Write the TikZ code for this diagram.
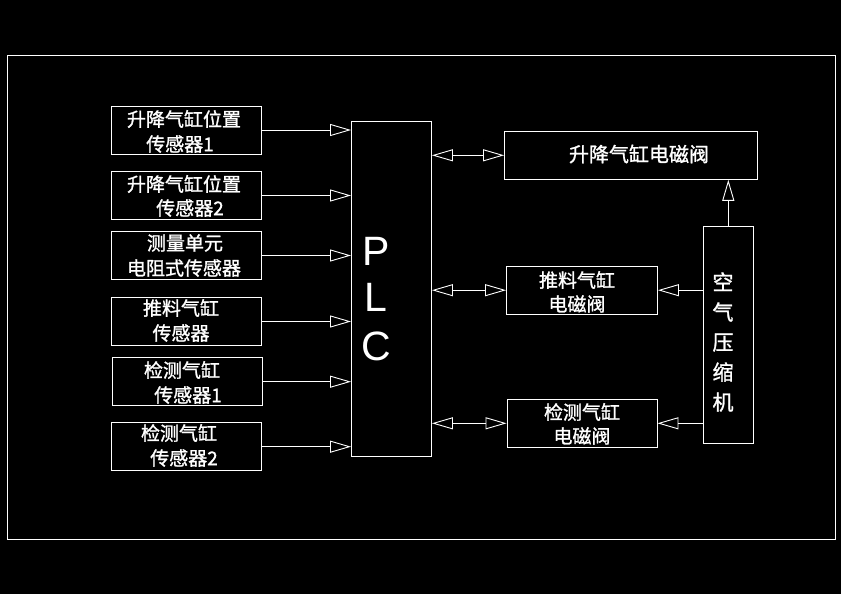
\documentclass[tikz,border=0pt]{standalone}
\usepackage{fontspec}
\newfontfamily\cjk{Noto Sans CJK SC}[AutoFakeBold=1.2]
\setsansfont{Liberation Sans}
\usetikzlibrary{arrows.meta}
\begin{document}
\begin{tikzpicture}[x=1pt,y=-1pt,line width=0.9pt,
  box/.style={draw=white,rectangle,inner sep=0pt},
  lbl/.style={font=\cjk\bfseries\fontsize{19}{19}\selectfont,text=white,inner sep=0pt},
  arr/.style={draw=white,-{Triangle[open,length=21pt,width=12pt]}},
  darr/.style={draw=white,{Triangle[open,length=21pt,width=12pt]}-{Triangle[open,length=21pt,width=12pt]}}]
\fill[black] (0,0) rectangle (841,594);
\useasboundingbox (0,0) rectangle (841,594);
\node[box,minimum width=828,minimum height=484] (frame) at (421,297) {};
% left sensor boxes
\node[box,minimum width=150,minimum height=48] (s1) at (186,130) {};
\node[box,minimum width=150,minimum height=48] (s2) at (186,195.5) {};
\node[box,minimum width=150,minimum height=48] (s3) at (186,255.5) {};
\node[box,minimum width=150,minimum height=48] (s4) at (186,321.5) {};
\node[box,minimum width=150,minimum height=48] (s5) at (187,381.7) {};
\node[box,minimum width=150,minimum height=48] (s6) at (186,446.7) {};
\node[lbl] (t1a) at (184,119) {升降气缸位置};
\node[lbl] (t1b) at (180,144) {传感器1};
\node[lbl] (t2a) at (184,184) {升降气缸位置};
\node[lbl] (t2b) at (190,208) {传感器2};
\node[lbl] (t3a) at (185,243) {测量单元};
\node[lbl] (t3b) at (184,268) {电阻式传感器};
\node[lbl] (t4a) at (181,308) {推料气缸};
\node[lbl] (t4b) at (181,333) {传感器};
\node[lbl] (t5a) at (182,370) {检测气缸};
\node[lbl] (t5b) at (188,395) {传感器1};
\node[lbl] (t6a) at (179,433) {检测气缸};
\node[lbl] (t6b) at (184,458) {传感器2};
% PLC
\node[box,minimum width=80,minimum height=335] (plc) at (391.5,289) {};
\node[font=\sffamily\fontsize{41}{41}\selectfont,text=white,inner sep=0pt] (pP) at (376,251) {P};
\node[font=\sffamily\fontsize{41}{41}\selectfont,text=white,inner sep=0pt] (pL) at (376,297) {L};
\node[font=\sffamily\fontsize{41}{41}\selectfont,text=white,inner sep=0pt] (pC) at (376,346) {C};
% right boxes
\node[box,minimum width=253,minimum height=48] (v1) at (631,155.3) {};
\node[lbl,font=\cjk\bfseries\fontsize{20}{20}\selectfont] (tv1) at (639,154) {升降气缸电磁阀};
\node[box,minimum width=151,minimum height=48] (v2) at (582,290.2) {};
\node[lbl] (tv2a) at (577,280) {推料气缸};
\node[lbl] (tv2b) at (577,304) {电磁阀};
\node[box,minimum width=150,minimum height=48] (v3) at (582,423.3) {};
\node[lbl] (tv3a) at (582,412) {检测气缸};
\node[lbl] (tv3b) at (582,436) {电磁阀};
% compressor
\node[box,minimum width=50,minimum height=217] (cmp) at (728.3,334.8) {};
\node[lbl,font=\cjk\bfseries\fontsize{21}{30}\selectfont,align=center] (tc) at (723,342) {空\\气\\压\\缩\\机};
% connectors
\foreach \s in {s1,s2,s3,s4,s5,s6}
  \draw[arr] (\s.east) -- (\s.east -| plc.west);
\draw[darr] (plc.east |- v1.west) -- (v1.west);
\draw[darr] (plc.east |- v2.west) -- (v2.west);
\draw[darr] (plc.east |- v3.west) -- (v3.west);
\draw[arr] (cmp.north) -- (cmp.north |- v1.south);
\draw[arr] (cmp.west |- v2.east) -- (v2.east);
\draw[arr] (cmp.west |- v3.east) -- (v3.east);
\end{tikzpicture}
\end{document}
